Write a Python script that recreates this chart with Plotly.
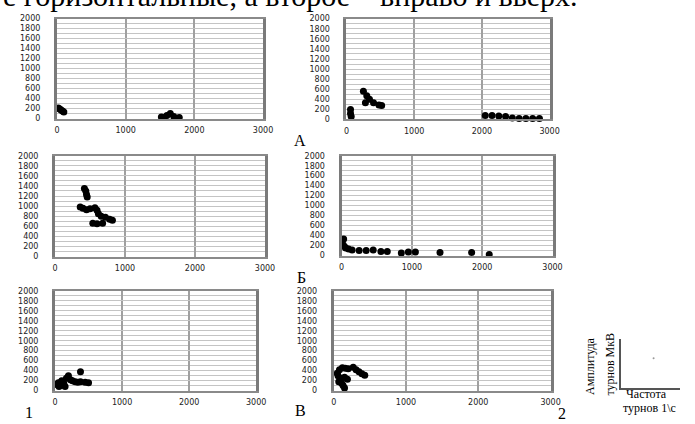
import plotly.graph_objects as go

W, H = 695, 424

# ---------------- data (frequency 1/s, amplitude mkV) ----------------
a1_x = [20, 40, 60, 80, 100, 1520, 1560, 1600, 1650, 1700, 1780]
a1_y = [210, 190, 170, 150, 130, 30, 20, 60, 100, 40, 20]

a2_x = [60, 60, 70, 250, 300, 280, 340, 400, 480, 520,
        2050, 2150, 2250, 2350, 2450, 2550, 2650, 2750, 2850]
a2_y = [200, 120, 60, 560, 470, 330, 400, 330, 290, 280,
        80, 80, 70, 60, 30, 20, 20, 20, 20]

b1_x = [420, 440, 450, 460, 360, 400, 450, 500, 570, 600, 620, 660, 720, 780, 820, 540, 600, 680]
b1_y = [1350, 1300, 1230, 1180, 980, 960, 930, 950, 970, 920, 850, 800, 780, 740, 720, 660, 650, 660]

b2_x = [30, 20, 40, 60, 100, 150, 250, 350, 450, 560, 650, 850, 950, 1050, 1400, 1850, 2100]
b2_y = [330, 220, 180, 150, 130, 110, 100, 100, 110, 80, 80, 50, 70, 70, 60, 60, 20]

c1_x = [20, 50, 80, 100, 130, 170, 200, 230, 260, 300, 340, 380, 450, 500, 380, 150, 60]
c1_y = [120, 160, 100, 200, 150, 250, 300, 220, 200, 180, 170, 180, 170, 160, 380, 80, 80]

c2_x = [50, 80, 120, 160, 200, 60, 100, 150, 190, 70, 110, 130, 150, 270, 310, 350, 390, 430]
c2_y = [350, 420, 460, 450, 440, 300, 250, 270, 230, 180, 150, 100, 50, 470, 420, 380, 340, 310]

x_ticks = [0, 1000, 2000, 3000]
y_ticks = list(range(0, 2001, 200))

panels = [
    (a1_x, a1_y), (a2_x, a2_y),
    (b1_x, b1_y), (b2_x, b2_y),
    (c1_x, c1_y), (c2_x, c2_y),
]
# pixel boxes (left, right, top, bottom)
boxes = [
    (55, 265, 15, 117), (350, 557, 15, 118),
    (53, 267, 155, 258), (345, 560, 155, 257),
    (53, 258, 293, 395), (337, 558, 293, 395),
]

fig = go.Figure()
lay = {}
tickfont = dict(family="DejaVu Sans", size=8, color="#222")
for i, ((xs, ys), (l, r, t, b)) in enumerate(zip(panels, boxes), start=1):
    sfx = "" if i == 1 else str(i)
    fig.add_trace(go.Scatter(
        x=xs, y=ys, mode="markers", xaxis="x" + sfx, yaxis="y" + sfx,
        marker=dict(color="black", size=7), cliponaxis=False, showlegend=False,
        hoverinfo="skip"))
    lay["xaxis" + sfx] = dict(
        domain=[l / W, r / W], range=[0, 3000], tickvals=x_ticks,
        ticktext=[str(v) for v in x_ticks], anchor="y" + sfx,
        showgrid=True, gridcolor="#a0a0a0", gridwidth=2,
        showline=True, linecolor="#8a8a8a", linewidth=2, mirror=True,
        ticks="", tickfont=tickfont, ticklabelstandoff=3, zeroline=False,
        fixedrange=True)
    lay["yaxis" + sfx] = dict(
        domain=[1 - b / H, 1 - t / H], range=[0, 2000], tickvals=y_ticks,
        anchor="x" + sfx, showgrid=True, gridcolor="#c4c4c4", gridwidth=1,
        minor=dict(dtick=100, showgrid=True, gridcolor="#c4c4c4", gridwidth=1),
        showline=True, linecolor="#7a7a7a", linewidth=3, mirror=True,
        ticks="", tickfont=tickfont, ticklabelstandoff=12, zeroline=False,
        fixedrange=True)

# inset axes legend
fig.add_trace(go.Scatter(x=[0.55], y=[0.6], mode="markers", xaxis="x7", yaxis="y7",
                         marker=dict(color="#999", size=2), showlegend=False,
                         hoverinfo="skip"))
lay["xaxis7"] = dict(domain=[630 / W, 690 / W], range=[0, 1], anchor="y7",
                     showline=True, linecolor="#555", linewidth=2, showgrid=False,
                     showticklabels=False, ticks="", zeroline=False)
lay["yaxis7"] = dict(domain=[1 - 392 / H, 1 - 342 / H], range=[0, 1], anchor="x7",
                     showline=True, linecolor="#555", linewidth=2, showgrid=False,
                     showticklabels=False, ticks="", zeroline=False)

serif = "Liberation Serif"
ann = [
    dict(text="е горизонтальные, а второе – вправо и вверх.", x=-2 / W, y=1 + 9 / H,
         xanchor="left", yanchor="middle",
         font=dict(family=serif, size=30, color="black")),
    dict(text="А", x=303 / W, y=1 - 139 / H, font=dict(family=serif, size=16, color="black")),
    dict(text="Б", x=304 / W, y=1 - 279 / H, font=dict(family=serif, size=16, color="black")),
    dict(text="В", x=303 / W, y=1 - 415 / H, font=dict(family=serif, size=16, color="black")),
    dict(text="1", x=27 / W, y=1 - 417 / H, font=dict(family=serif, size=16, color="black")),
    dict(text="2", x=570 / W, y=1 - 418 / H, font=dict(family=serif, size=16, color="black")),
    dict(text="Амплитуда", x=598 / W, y=1 - 370 / H, textangle=-90,
         font=dict(family=serif, size=12, color="black")),
    dict(text="турнов МкВ", x=619 / W, y=1 - 368 / H, textangle=-90,
         font=dict(family=serif, size=12, color="black")),
    dict(text="Частота", x=633 / W, y=1 - 398 / H, xanchor="left",
         font=dict(family=serif, size=12, color="black")),
    dict(text="турнов 1\\с", x=630 / W, y=1 - 413 / H, xanchor="left",
         font=dict(family=serif, size=12, color="black")),
]
for a in ann:
    a.setdefault("xanchor", "center")
    a.setdefault("yanchor", "middle")
    a.update(xref="paper", yref="paper", showarrow=False)

fig.update_layout(width=W, height=H, margin=dict(l=0, r=0, t=0, b=0),
                  paper_bgcolor="white", plot_bgcolor="white",
                  annotations=ann, **lay)

fig.write_html("out.html", config={"displayModeBar": False})
